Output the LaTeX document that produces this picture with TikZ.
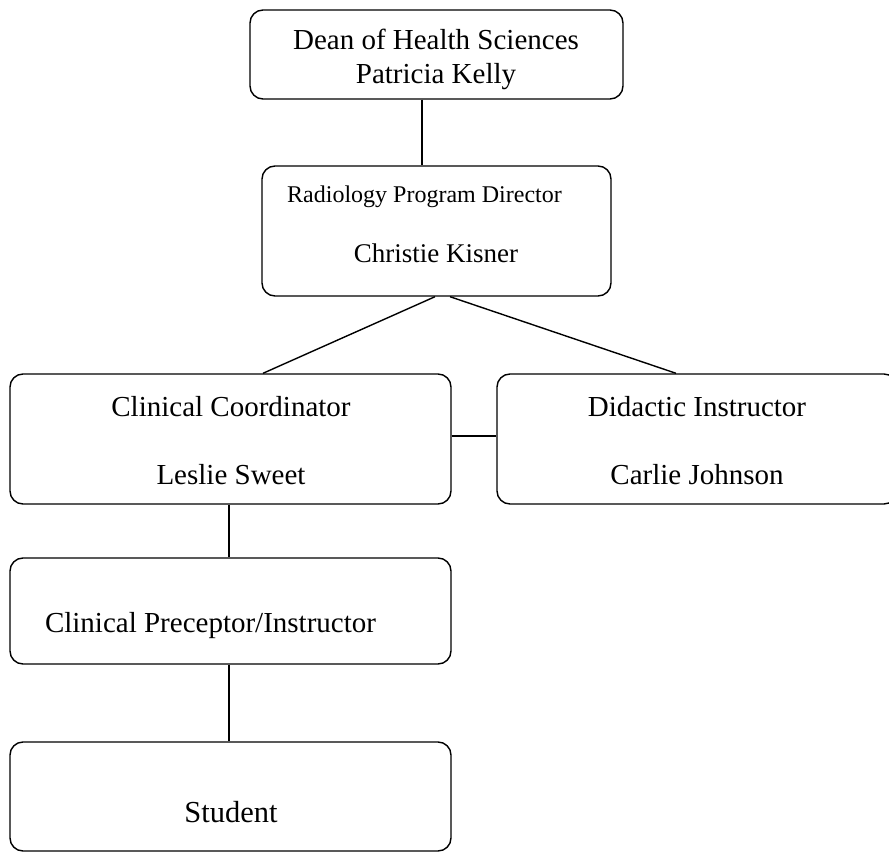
\documentclass[tikz,border=0pt]{standalone}
\usepackage{fontspec}
\setmainfont{Liberation Serif}
\begin{document}
\begin{tikzpicture}[x=1pt,y=-1pt,
  box/.style={draw=black, line width=1.4pt, rounded corners=13pt, rectangle, inner sep=0pt, fill=white},
  conn/.style={draw=black, line width=1.4pt},
  txt/.style={anchor=base, inner sep=0pt, font=\fontsize{29}{34}\selectfont},
  smalltxt/.style={anchor=base, inner sep=0pt, font=\fontsize{24}{28}\selectfont},
  bigtxt/.style={anchor=base, inner sep=0pt, font=\fontsize{30.5}{36}\selectfont}]
\path[use as bounding box, fill=white] (0,0) rectangle (889,853);
\clip (0,0) rectangle (889,853);

% boxes
\node[box, minimum width=373pt, minimum height=89pt] (dean) at (436.5,54.5) {};
\node[box, minimum width=349pt, minimum height=130pt] (rad) at (436.5,231) {};
\node[box, minimum width=441pt, minimum height=130pt] (cc) at (230.5,439) {};
\node[box, minimum width=400pt, minimum height=130pt] (di) at (697,439) {};
\node[box, minimum width=441pt, minimum height=106pt] (prec) at (230.5,611) {};
\node[box, minimum width=441pt, minimum height=109pt] (stud) at (230.5,796.5) {};

% connectors
\draw[conn] (dean.south -| 422,0) -- (rad.north -| 422,0);
\draw[conn] (rad.south -| 435,0) -- (cc.north -| 263,0);
\draw[conn] (rad.south -| 450,0) -- (di.north -| 676,0);
\draw[conn] (cc.east |- 0,436) -- (di.west |- 0,436);
\draw[conn] (cc.south -| 229,0) -- (prec.north -| 229,0);
\draw[conn] (prec.south -| 229,0) -- (stud.north -| 229,0);

% texts
\node[txt] (t1) at (436,50) {Dean of Health Sciences};
\node[txt] (t2) at (436,84) {Patricia Kelly};
\node[smalltxt] (t3) at (424.5,203) {Radiology Program Director};
\node[txt, font=\fontsize{27}{32}\selectfont] (t4) at (436,262) {Christie Kisner};
\node[txt] (t5) at (231,416) {Clinical Coordinator};
\node[txt] (t6) at (231,484) {Leslie Sweet};
\node[txt] (t7) at (697,416) {Didactic Instructor};
\node[txt] (t8) at (697,484) {Carlie Johnson};
\node[txt] (t9) at (210.5,632) {Clinical Preceptor/Instructor};
\node[bigtxt] (t10) at (231,822) {Student};
\end{tikzpicture}
\end{document}
